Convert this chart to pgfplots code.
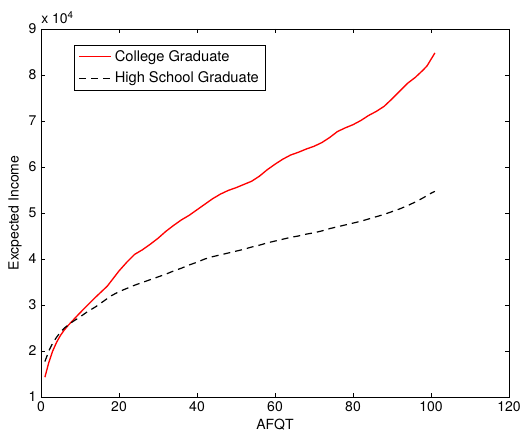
\documentclass[border=0pt]{standalone}
\usepackage{pgfplots}
\pgfplotsset{compat=1.18}
\usepackage{fontspec}
\setmainfont{TeX Gyre Heros}
\begin{document}
\begin{tikzpicture}
\begin{axis}[
  name=main,
  scale only axis,
  clip=false,
  width=351pt, height=276pt,
  xmin=0, xmax=120, ymin=1, ymax=9,
  xtick={0,20,...,120}, ytick={1,2,...,9},
  tick align=inside,
  major tick length=3pt,
  axis line style={line width=0.6pt},
  every tick/.style={black, line width=0.5pt},
  /pgf/number format/assume math mode=true,
  tick label style={font=\fontsize{10.5}{12}\selectfont},
  xlabel={AFQT},
  ylabel={Excpected Income},
  label style={font=\fontsize{10.5}{12}\selectfont, inner sep=0pt},
  xlabel style={at={(axis description cs:0.5,-0.0598)}, anchor=north},
  ylabel style={at={(axis description cs:-0.0406,0.5)}, anchor=south},
  legend style={at={(0.0705,0.9565)}, anchor=north west, draw=black, line width=0.6pt,
    font=\fontsize{11}{12}\selectfont, inner xsep=3pt, inner ysep=2pt, row sep=2pt,
    cells={anchor=west}},
  legend cell align=left,
  legend image code/.code={\draw[#1] (0cm,0cm) -- (0.85cm,0cm);},
]
\addplot[red, line width=1pt,
  legend image code/.code={\draw[red, line width=1.1pt] (0cm,0.4pt) -- (0.85cm,0.4pt);}] coordinates {
(1,1.43)(2,1.75)(3,2.00)(4,2.19)(5,2.34)(6,2.46)(7,2.56)(8,2.65)(10,2.83)(12,3.00)(14,3.17)
(16,3.33)(17,3.41)(18,3.52)(20,3.74)(22,3.93)(24,4.10)(26,4.20)(28,4.32)(30,4.45)
(32,4.60)(34,4.73)(36,4.85)(38,4.95)(40,5.07)(42,5.19)(44,5.31)(46,5.41)(48,5.49)
(50,5.55)(52,5.62)(54,5.69)(56,5.80)(58,5.94)(60,6.06)(62,6.17)(64,6.26)(66,6.32)
(68,6.39)(70,6.45)(72,6.53)(74,6.64)(76,6.77)(78,6.85)(80,6.92)(82,7.01)(84,7.12)
(86,7.21)(88,7.32)(90,7.48)(92,7.65)(94,7.82)(96,7.95)(98,8.11)(99,8.20)(100,8.34)(101,8.48)
};
\addlegendentry{College Graduate}
\addplot[black, line width=0.9pt, dash pattern=on 5.25pt off 3.75pt] coordinates {
(1,1.77)(2,2.00)(3,2.17)(4,2.30)(5,2.41)(6,2.50)(8,2.63)(10,2.74)(12,2.86)(14,2.96)(16,3.08)
(18,3.20)(20,3.29)(22,3.36)(24,3.43)(26,3.49)(28,3.55)(30,3.61)(32,3.67)(34,3.74)
(36,3.80)(38,3.87)(40,3.93)(42,4.00)(44,4.05)(46,4.09)(48,4.13)(50,4.17)(52,4.21)
(54,4.26)(56,4.30)(58,4.35)(60,4.39)(62,4.43)(64,4.47)(66,4.50)(68,4.54)(70,4.57)
(72,4.61)(74,4.66)(76,4.70)(78,4.74)(80,4.78)(82,4.82)(84,4.87)(86,4.92)(88,4.97)
(90,5.03)(92,5.09)(94,5.16)(96,5.24)(98,5.33)(100,5.43)(101,5.47)
};
\addlegendentry{High School Graduate}
\node[anchor=base west, font=\fontsize{10.5}{12}\selectfont, inner sep=0pt, yshift=3.75pt] at (rel axis cs:0,1) {x 10\textsuperscript{4}};
\end{axis}
\pgfresetboundingbox
\path ([xshift=-30.75pt,yshift=-26.25pt]main.south west) rectangle ([xshift=9pt,yshift=21.75pt]main.north east);
\end{tikzpicture}
\end{document}
